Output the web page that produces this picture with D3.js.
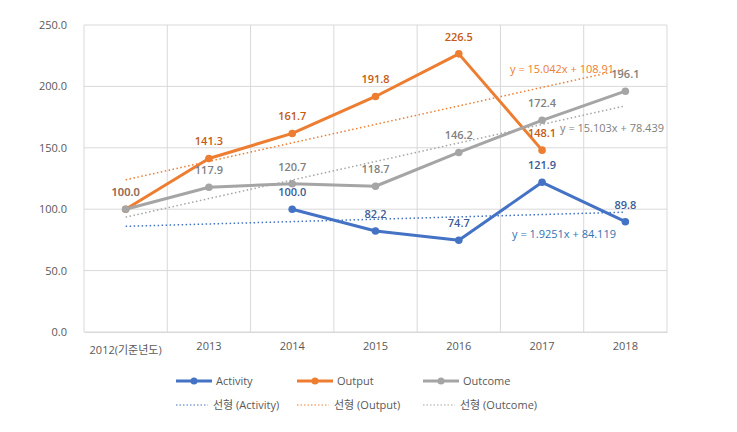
<!DOCTYPE html>
<html><head><meta charset="utf-8">
<script src="https://cdn.jsdelivr.net/npm/d3@7"></script>
<style>body{margin:0;background:#fff}svg{display:block;font-family:"Open Sans","Noto Sans CJK KR",sans-serif}</style>
</head><body><svg id="c" width="737" height="432"></svg>
<script>
const categories = ["2012(기준년도)","2013","2014","2015","2016","2017","2018"];
const activity = [null,null,100.0,82.2,74.7,121.9,89.8];
const output = [100.0,141.3,161.7,191.8,226.5,148.1,null];
const outcome = [100.0,117.9,120.7,118.7,146.2,172.4,196.1];
const yTicks = [0,50,100,150,200,250];
// trendline coefficients as shown in the chart (x = category index 1..7)
const trendActivity = {slope:1.9251, intercept:84.119, label:"y = 1.9251x + 84.119"};
const trendOutput = {slope:15.042, intercept:108.91, label:"y = 15.042x + 108.91"};
const trendOutcome = {slope:15.103, intercept:78.439, label:"y = 15.103x + 78.439"};

const FONT = '"Open Sans","Noto Sans CJK KR",sans-serif';
const svg = d3.select("#c");
const L=84,R=667,T=25,B=332;
const x = d3.scaleBand().domain(categories).range([L,R]);
const cx = c => x(c)+x.bandwidth()/2;
const y = d3.scaleLinear().domain([0,250]).range([B,T]);

// gridlines
svg.append("g").selectAll("line").data(yTicks).join("line")
  .attr("x1",L).attr("x2",R).attr("y1",d=>y(d)).attr("y2",d=>y(d))
  .attr("stroke","#d9d9d9").attr("stroke-width",1);
const vb = categories.map(c=>x(c)).concat([R]);
svg.append("g").selectAll("line").data(vb).join("line")
  .attr("x1",d=>d).attr("x2",d=>d).attr("y1",T).attr("y2",B)
  .attr("stroke","#d9d9d9").attr("stroke-width",1);

// y axis
const ya = svg.append("g").attr("transform",`translate(${L-14},0)`)
  .call(d3.axisLeft(y).tickValues(yTicks).tickFormat(d3.format(".1f")).tickSize(0));
ya.select(".domain").remove();
ya.selectAll("text").attr("fill","#595959").attr("font-size",11).attr("font-family",FONT);

// x axis
const xa = svg.append("g").attr("transform",`translate(0,${B})`)
  .call(d3.axisBottom(x).tickSize(0).tickPadding(10));
xa.select(".domain").attr("stroke","#d9d9d9");
xa.selectAll("text").attr("fill","#595959").attr("font-size",11).attr("font-family",FONT)
  .attr("dy",(d,i)=>i===0?"1.05em":"0.71em");

const series = [
  {name:"Activity", data:activity, color:"#4472C4", label:"#3B5A96", trend:trendActivity, tcol:"#2E75B6"},
  {name:"Output", data:output, color:"#ED7D31", label:"#C55A11", trend:trendOutput, tcol:"#ED7D31"},
  {name:"Outcome", data:outcome, color:"#A5A5A5", label:"#808080", trend:trendOutcome, tcol:"#7F7F7F"}
];

// trendlines
const tl = d3.line().x(d=>d[0]).y(d=>d[1]);
series.forEach(s=>{
  const pts = categories.map((c,i)=>[cx(c), y(s.trend.slope*(i+1)+s.trend.intercept)]);
  svg.append("path").attr("d",tl(pts)).attr("fill","none").attr("stroke",s.color)
    .attr("stroke-width",1.5).attr("stroke-dasharray","1.5,2.5");
});

// series lines
const line = d3.line().defined(d=>d.v!==null).x(d=>cx(d.c)).y(d=>y(d.v));
series.forEach(s=>{
  const d = categories.map((c,i)=>({c,v:s.data[i]}));
  svg.append("path").datum(d).attr("d",line).attr("fill","none").attr("stroke",s.color)
    .attr("stroke-width",3).attr("stroke-linejoin","round");
  svg.append("g").selectAll("circle").data(d.filter(p=>p.v!==null)).join("circle")
    .attr("cx",p=>cx(p.c)).attr("cy",p=>y(p.v)).attr("r",3.8).attr("fill",s.color);
});

// data labels
series.forEach(s=>{
  const d = categories.map((c,i)=>({c,v:s.data[i],i})).filter(p=>p.v!==null);
  svg.append("g").selectAll("text").data(d).join("text")
    .attr("x",p=>cx(p.c)).attr("y",p=>y(p.v)-13).attr("text-anchor","middle")
    .attr("font-size",11).attr("font-weight",600).attr("fill",s.label)
    .attr("fill-opacity", p=>(s.name==="Outcome" && p.i===0)?0.7:1)
    .text(p=>p.v.toFixed(1));
});

// trend equations
const eqPos = [
  {s:series[0], x:564, y:238},
  {s:series[1], x:562, y:73},
  {s:series[2], x:612, y:132}
];
eqPos.forEach(e=>{
  svg.append("text").attr("x",e.x).attr("y",e.y).attr("text-anchor","middle")
    .attr("font-size",11).attr("fill",e.s.tcol).text(e.s.trend.label);
});

// legend
const lg = svg.append("g").attr("font-size",11).attr("fill","#595959");
const lx = [176,297,423];
series.forEach((s,i)=>{
  lg.append("line").attr("x1",lx[i]).attr("x2",lx[i]+36).attr("y1",381).attr("y2",381)
    .attr("stroke",s.color).attr("stroke-width",3);
  lg.append("circle").attr("cx",lx[i]+18).attr("cy",381).attr("r",3.5).attr("fill",s.color);
  lg.append("text").attr("x",lx[i]+40).attr("y",385).attr("fill","#595959").text(s.name);
  lg.append("line").attr("x1",lx[i]).attr("x2",lx[i]+32).attr("y1",405).attr("y2",405)
    .attr("stroke",s.color).attr("stroke-width",1.2).attr("stroke-dasharray","1.5,2");
  lg.append("text").attr("x",lx[i]+37).attr("y",409).attr("fill","#595959").text(`선형 (${s.name})`);
});
</script></body></html>
